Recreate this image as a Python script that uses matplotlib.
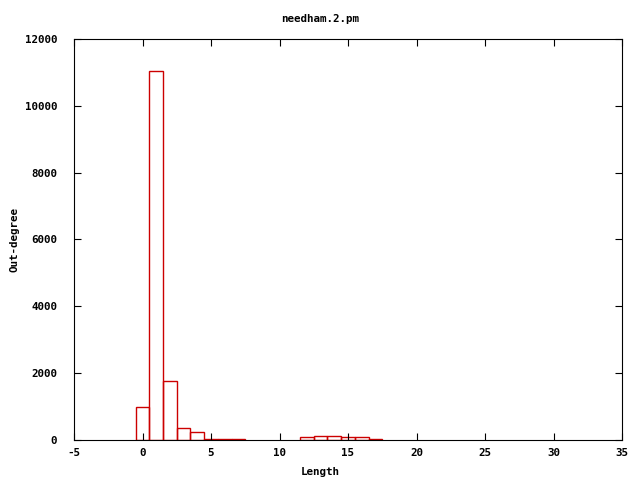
import matplotlib
matplotlib.use("Agg")
import matplotlib.pyplot as plt

# histogram data
lengths = [0, 1, 2, 3, 4, 5, 6, 7, 12, 13, 14, 15, 16, 17]
counts = [1000, 11050, 1780, 350, 240, 30, 25, 20, 90, 120, 120, 100, 90, 20]

title = "needham.2.pm"
xlab = "Length"
ylab = "Out-degree"
xticks = [-5, 0, 5, 10, 15, 20, 25, 30, 35]
yticks = [0, 2000, 4000, 6000, 8000, 10000, 12000]

font = {'family': 'DejaVu Sans Mono', 'weight': 'bold', 'size': 7.8}

fig = plt.figure(figsize=(6.4, 4.8), dpi=100)
ax = fig.add_axes([74/640, 1 - 440/480, 548/640, 401/480])

ax.bar(lengths, counts, width=1.0, fill=False, edgecolor="#cc0000", linewidth=1)

ax.set_xlim(-5, 35)
ax.set_ylim(0, 12000)
ax.set_xticks(xticks)
ax.set_yticks(yticks)
ax.set_xticklabels([str(t) for t in xticks], fontdict=font)
ax.set_yticklabels([str(t) for t in yticks], fontdict=font)
ax.tick_params(axis='both', direction='in', length=5, top=True, right=True)
ax.tick_params(axis='x', pad=6)
ax.tick_params(axis='y', pad=12)

fig.text(0.5, 1 - 19/480, title, ha='center', va='center', fontdict=font)
fig.text(0.5, 1 - 472/480, xlab, ha='center', va='center', fontdict=font)
fig.text(14/640, 0.5, ylab, ha='center', va='center', rotation=90, fontdict=font)

fig.savefig("out.png", dpi=100)
